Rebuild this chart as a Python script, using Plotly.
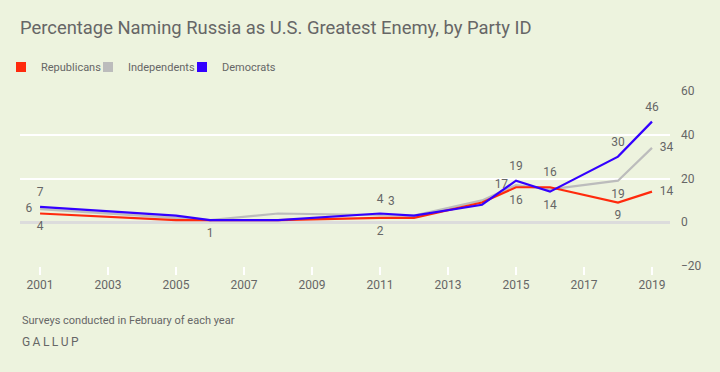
import plotly.graph_objects as go

years = [2001, 2005, 2006, 2008, 2011, 2012, 2014, 2015, 2016, 2018, 2019]
republicans = [4, 1, 1, 1, 2, 2, 9, 16, 16, 9, 14]
independents = [6, 2, 1, 4, 3, 3, 10, 17, 15, 19, 34]
democrats = [7, 3, 1, 1, 4, 3, 8, 19, 14, 30, 46]

rep_labels = ["4", "", "1", "", "2", "", "", "16", "16", "9", "14"]
rep_pos = ["bottom center", "top center", "bottom center", "top center", "bottom center",
           "top center", "top center", "bottom center", "top center", "bottom center", "middle right"]
ind_labels = ["6", "", "", "", "3", "", "", "17", "", "19", "34"]
ind_pos = ["middle left", "top center", "top center", "top center", "top right",
           "top center", "top center", "middle left", "top center", "bottom center", "middle right"]
dem_labels = ["7", "", "", "", "4", "", "", "19", "14", "30", "46"]
dem_pos = ["top center", "top center", "top center", "top center", "top center",
           "top center", "top center", "top center", "bottom center", "top center", "top center"]

x_ticks = [2001, 2003, 2005, 2007, 2009, 2011, 2013, 2015, 2017, 2019]
y_ticks = [-20, 0, 20, 40, 60]

RED = "#ff2a0d"
GRAY = "#bcbcbc"
BLUE = "#3300ff"
BG = "#edf3de"
TXT = "#666666"
FONT = "Roboto"

fig = go.Figure()

for name, vals, labels, pos, col in [
    ("Independents", independents, ind_labels, ind_pos, GRAY),
    ("Republicans", republicans, rep_labels, rep_pos, RED),
    ("Democrats", democrats, dem_labels, dem_pos, BLUE),
]:
    fig.add_trace(go.Scatter(
        x=years, y=vals, mode="lines+markers+text", text=labels, textposition=pos,
        textfont=dict(size=12, color=TXT, family=FONT), cliponaxis=False,
        marker=dict(size=11, color="rgba(0,0,0,0)"),
        line=dict(color=col, width=2.2), showlegend=False, hoverinfo="skip", name=name,
    ))

legend_names = ["Republicans", "Independents", "Democrats"]
legend_cols = [RED, GRAY, BLUE]
legend_ids = ["legend", "legend2", "legend3"]
legend_x = [1, 88, 182]

for name, col, lid in zip(legend_names, legend_cols, legend_ids):
    fig.add_trace(go.Scatter(
        x=[None], y=[None], mode="markers", name=name, legend=lid,
        marker=dict(symbol="square", size=10, color=col), showlegend=True,
    ))

legend_style = dict(orientation="h", xref="container", yref="container", xanchor="left",
                    yanchor="middle", y=1 - 67 / 372, itemwidth=30,
                    font=dict(size=11, color=TXT, family=FONT), bgcolor="rgba(0,0,0,0)")

fig.update_layout(
    width=720, height=372,
    paper_bgcolor=BG, plot_bgcolor=BG,
    margin=dict(l=20, r=50, t=91, b=106, autoexpand=False),
    font=dict(family=FONT, color=TXT, size=12),
    title=dict(text="Percentage Naming Russia as U.S. Greatest Enemy, by Party ID",
               x=20 / 720, xanchor="left", y=1 - 28 / 372, yanchor="middle",
               font=dict(size=18.4, color=TXT, family=FONT)),
    legend=dict(legend_style, x=legend_x[0] / 720),
    legend2=dict(legend_style, x=legend_x[1] / 720),
    legend3=dict(legend_style, x=legend_x[2] / 720),
    xaxis=dict(range=[2000.41, 2019.53], tickvals=x_ticks, ticktext=[str(t) for t in x_ticks],
               showgrid=False, zeroline=False, showline=False,
               ticks="outside", ticklen=8, tickwidth=2, tickcolor="white",
               tickfont=dict(size=12, color=TXT, family=FONT), fixedrange=True),
    yaxis=dict(range=[-20, 60], tickvals=y_ticks, side="right",
               showgrid=True, gridcolor="white", gridwidth=2,
               zeroline=True, zerolinecolor="#dcdcdc", zerolinewidth=3,
               showline=False, ticks="", ticklabelstandoff=10,
               tickfont=dict(size=12, color=TXT, family=FONT), fixedrange=True),
    annotations=[
        dict(text="Surveys conducted in February of each year", xref="paper", yref="paper",
             x=0, y=-(320 - 266) / 175, xanchor="left", yanchor="middle", showarrow=False,
             font=dict(size=11, color=TXT, family=FONT)),
        dict(text="G\u2009A\u2009L\u2009L\u2009U\u2009P", xref="paper", yref="paper",
             x=0, y=-(342 - 266) / 175, xanchor="left", yanchor="middle", showarrow=False,
             font=dict(size=12, color=TXT, family=FONT)),
    ],
    hovermode=False,
)

fig.write_html("out.html", config={"displayModeBar": False},
               post_script="document.body.style.margin='0';document.body.style.background='%s';" % BG)
